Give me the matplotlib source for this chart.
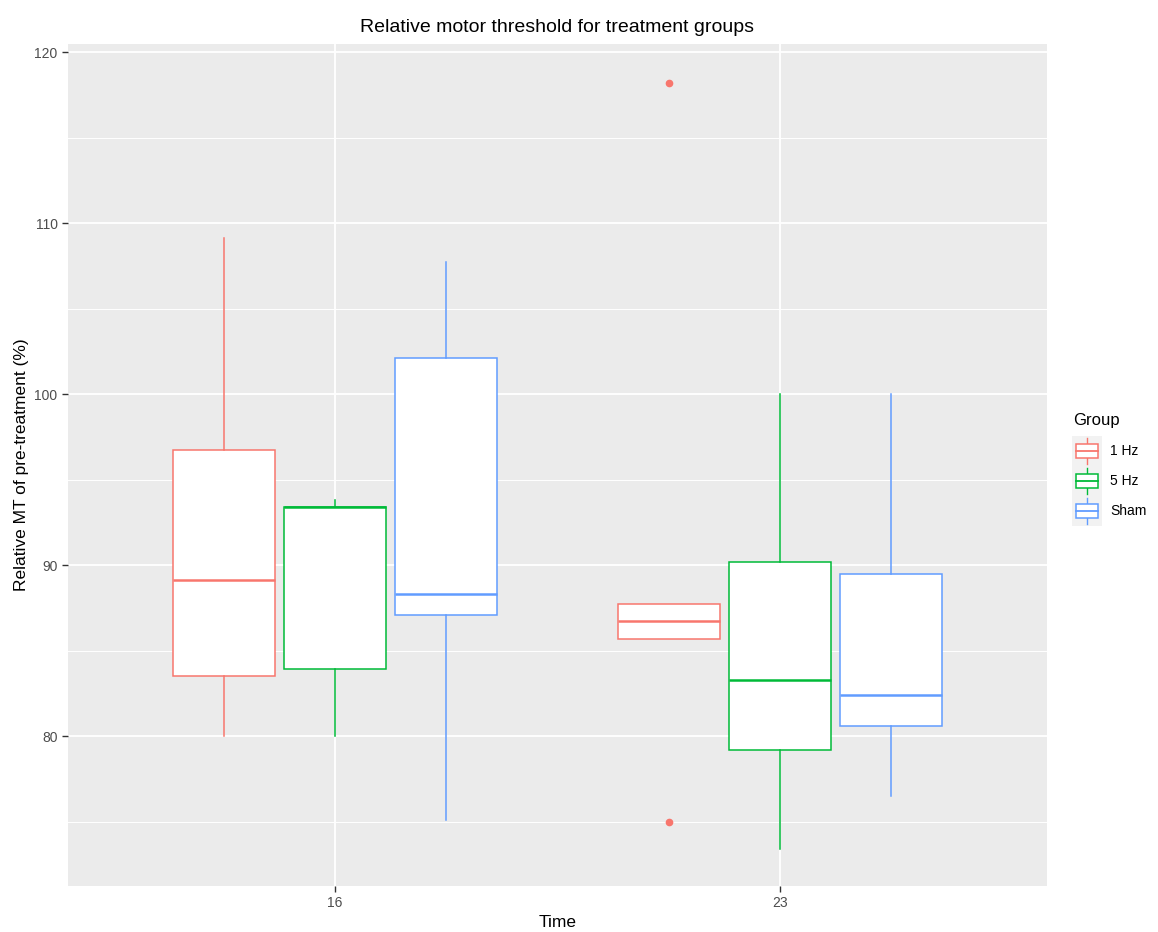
import matplotlib.pyplot as plt
from matplotlib.patches import Rectangle

plt.rcParams['font.family'] = ['Liberation Sans', 'DejaVu Sans']

# data (box stats per time point and group)
times = ['16', '23']
groups = ['1 Hz', '5 Hz', 'Sham']
colors = ['#F8766D', '#00BA38', '#619CFF']

whis_lo = {'1 Hz': [80.0, 85.7], '5 Hz': [80.0, 73.4], 'Sham': [75.1, 76.5]}
q1 = {'1 Hz': [83.5, 85.7], '5 Hz': [83.9, 79.2], 'Sham': [87.1, 80.6]}
med = {'1 Hz': [89.1, 86.7], '5 Hz': [93.4, 83.3], 'Sham': [88.3, 82.4]}
q3 = {'1 Hz': [96.7, 87.7], '5 Hz': [93.4, 90.2], 'Sham': [102.1, 89.5]}
whis_hi = {'1 Hz': [109.1, 87.7], '5 Hz': [93.8, 100.0], 'Sham': [107.7, 100.0]}
outliers = {'1 Hz': [[], [118.2, 75.0]], '5 Hz': [[], []], 'Sham': [[], []]}

fig = plt.figure(figsize=(11.58, 9.32), dpi=100)
ax = fig.add_axes([68/1158, 1-886/932, (1047-68)/1158, (886-44)/932])
ax.set_facecolor('#EBEBEB')

offsets = [-0.25, 0.0, 0.25]
for g, col, off in zip(groups, colors, offsets):
    stats = []
    for i in range(len(times)):
        stats.append(dict(whislo=whis_lo[g][i], q1=q1[g][i], med=med[g][i],
                          q3=q3[g][i], whishi=whis_hi[g][i],
                          fliers=outliers[g][i]))
    pos = [i + 1 + off for i in range(len(times))]
    ax.bxp(stats, positions=pos, widths=0.23, showcaps=False, patch_artist=True,
           boxprops=dict(facecolor='white', edgecolor=col, linewidth=1.1),
           whiskerprops=dict(color=col, linewidth=1.1),
           medianprops=dict(color=col, linewidth=1.8),
           flierprops=dict(marker='o', markerfacecolor=col, markeredgecolor=col,
                           markersize=4.5),
           zorder=3)

ax.set_xlim(0.4, 2.6)
ax.set_ylim(71.23, 120.47)
ax.set_xticks([1, 2])
ax.set_xticklabels(times)
ax.set_yticks([80, 90, 100, 110, 120])
ax.set_yticks([75, 85, 95, 105, 115], minor=True)
ax.set_xticks([1.5], minor=True)
ax.grid(which='major', color='white', linewidth=1.3, zorder=0)
ax.grid(which='minor', axis='y', color='white', linewidth=0.7, zorder=0)
ax.set_axisbelow(True)
for s in ax.spines.values():
    s.set_visible(False)
ax.tick_params(which='major', length=4, color='#333333', width=1,
               labelsize=10, labelcolor='#4D4D4D')
ax.tick_params(which='minor', length=0)

ax.set_title('Relative motor threshold for treatment groups', fontsize=14, pad=9)
ax.set_xlabel('Time', fontsize=12.5, labelpad=3)
ax.set_ylabel('Relative MT of pre-treatment (%)', fontsize=12.5, labelpad=4)

# legend drawn in pixel coordinates
lax = fig.add_axes([1060/1158, 1-535/932, 98/1158, 135/932])
lax.set_xlim(1060, 1158)
lax.set_ylim(535, 400)
lax.axis('off')
lax.text(1073, 421, 'Group', fontsize=12, va='center', ha='left')
for k, (g, col) in enumerate(zip(groups, colors)):
    yc = 451 + 30 * k
    lax.add_patch(Rectangle((1072, yc - 15), 30, 30, facecolor='#F2F2F2',
                            edgecolor='none'))
    lax.plot([1087, 1087], [yc - 13, yc + 13], color=col, linewidth=1.0)
    lax.add_patch(Rectangle((1076, yc - 7), 22, 14, facecolor='white',
                            edgecolor=col, linewidth=1.1, zorder=3))
    lax.plot([1076, 1098], [yc, yc], color=col, linewidth=1.3, zorder=4)
    lax.text(1110, yc, g, fontsize=10, va='center', ha='left', color='black')

fig.savefig('out.png', dpi=100)
